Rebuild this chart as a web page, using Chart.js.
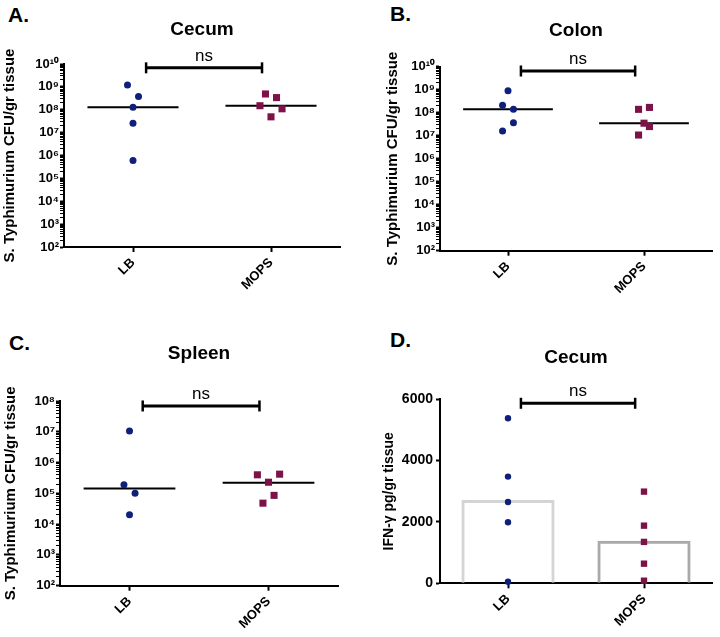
<!DOCTYPE html>
<html>
<head>
<meta charset="utf-8">
<script src="https://cdn.jsdelivr.net/npm/chart.js@4.4.0/dist/chart.umd.min.js"></script>
<style>
  body { margin: 0; background: #fff; width: 720px; height: 637px; position: relative; overflow: hidden;
         font-family: "Liberation Sans", Arial, sans-serif; }
  .panel { position: absolute; }
  .letter { position: absolute; font-weight: bold; font-size: 21px; line-height: 1; color: #000; }
</style>
</head>
<body>
<div class="letter" style="left:8px;top:4px">A.</div>
<div class="letter" style="left:390px;top:3px">B.</div>
<div class="letter" style="left:9px;top:332px">C.</div>
<div class="letter" style="left:390px;top:329px">D.</div>

<div class="panel" style="left:0;top:0;width:360px;height:320px"><canvas id="chartA"></canvas></div>
<div class="panel" style="left:360px;top:0;width:360px;height:320px"><canvas id="chartB"></canvas></div>
<div class="panel" style="left:0;top:320px;width:360px;height:317px"><canvas id="chartC"></canvas></div>
<div class="panel" style="left:360px;top:320px;width:360px;height:317px"><canvas id="chartD"></canvas></div>

<script>
// groups on the x axis
const groups = ['LB', 'MOPS'];

// A. Cecum, CFU/gr tissue
const cecumLB = [1.2e9, 3.8e8, 1.3e8, 2.6e7, 6e5];
const cecumMOPS = [4.9e8, 3.4e8, 1.5e8, 1.1e8, 4.9e7];
const cecumMedians = [1.3e8, 1.5e8];

// B. Colon, CFU/gr tissue
const colonLB = [9e8, 2.1e8, 1.4e8, 3.7e7, 1.6e7];
const colonMOPS = [1.4e8, 1.7e8, 3.5e7, 2.5e7, 1.07e7];
const colonMedians = [1.4e8, 3.5e7];

// C. Spleen, CFU/gr tissue
const spleenLB = [1.07e7, 1.9e5, 1.0e5, 2.0e4];
const spleenMOPS = [4.0e5, 4.2e5, 2.3e5, 8.6e4, 4.8e4];
const spleenMedians = [1.45e5, 2.2e5];

// D. Cecum, IFN-gamma pg/gr tissue
const ifnLB = [5380, 3480, 2650, 1990, 50];
const ifnMOPS = [2990, 1880, 1350, 640, 85];
const ifnMeans = [2720, 1390];

// y tick labels (decades)
const decadesAB = [2, 3, 4, 5, 6, 7, 8, 9, 10];
const decadesC = [2, 3, 4, 5, 6, 7, 8];
const ifnTicks = [0, 2000, 4000, 6000];

// horizontal scatter of the dots, so they don't overlap (category units)
const cecumLBJitter = [-0.04, 0.04, 0, 0, 0];
const cecumMOPSJitter = [-0.04, 0.04, -0.08, 0.08, 0];
const colonLBJitter = [0, -0.04, 0.04, 0.04, -0.04];
const colonMOPSJitter = [-0.04, 0.04, 0, 0.04, -0.04];
const spleenLBJitter = [0, -0.04, 0.04, 0];
const spleenMOPSJitter = [-0.08, 0.08, 0, 0.04, -0.04];

const FONT = '"Liberation Sans", Arial, Helvetica, sans-serif';
Chart.defaults.font.family = FONT;
Chart.defaults.color = '#000';

const NAVY = '#10207a';
const MAROON = '#7c1248';
const SUP = { '0': '⁰', '1': '¹', '2': '²', '3': '³', '4': '⁴', '5': '⁵', '6': '⁶', '7': '⁷', '8': '⁸', '9': '⁹' };

function decadeLabel(exp) {
  return '10' + String(exp).split('').map(c => SUP[c]).join('');
}

// major + minor ticks of the log axis
function logTicks(exps) {
  const t = [];
  exps.forEach((e, i) => {
    t.push({ value: Math.pow(10, e), major: true });
    if (i < exps.length - 1) {
      for (let m = 2; m <= 9; m++) t.push({ value: m * Math.pow(10, e), major: false });
    }
  });
  return t;
}

// draws "ns" above the bracket
const nsLabel = {
  id: 'nsLabel',
  afterDatasetsDraw(chart, args, opts) {
    const meta = chart.getDatasetMeta(opts.index);
    const p0 = meta.data[0], p1 = meta.data[1];
    const ctx = chart.ctx;
    ctx.save();
    ctx.font = '17px ' + FONT;
    ctx.fillStyle = '#000';
    ctx.textAlign = 'center';
    ctx.textBaseline = 'alphabetic';
    ctx.fillText('ns', (p0.x + p1.x) / 2, p0.y - 7);
    ctx.restore();
  }
};

function xAxis(h) {
  return {
    type: 'linear', min: 0.5, max: 2.5, offset: false,
    afterBuildTicks: s => { s.ticks = [{ value: 1 }, { value: 2 }]; },
    afterFit: s => { s.height = h; },
    ticks: {
      autoSkip: false, minRotation: 45, maxRotation: 45, padding: 3,
      font: { size: 13, weight: 'bold' }, color: '#000',
      callback: v => groups[Math.round(v) - 1]
    },
    grid: { display: true, drawOnChartArea: false, offset: false, tickLength: 5, tickWidth: 2, tickColor: '#000' },
    border: { display: true, color: '#000', width: 2 }
  };
}

function bracket(y) {
  return {
    showLine: true,
    data: [{ x: 1.095, y: y }, { x: 1.935, y: y }],
    borderColor: '#000', borderWidth: 3,
    pointStyle: 'line', pointRotation: 90, pointRadius: 5.5,
    pointBorderWidth: 2.5, pointBorderColor: '#000',
    clip: false
  };
}

function medianLine(x, y) {
  return {
    showLine: true,
    data: [{ x: x - 0.33, y: y }, { x: x + 0.33, y: y }],
    borderColor: '#000', borderWidth: 2, pointRadius: 0, clip: false
  };
}

function dots(values, jitter, x, style, color, r) {
  return {
    showLine: false,
    data: values.map((v, i) => ({ x: x + (jitter ? jitter[i] : 0), y: v })),
    pointStyle: style, pointRadius: r,
    pointBackgroundColor: color, pointBorderColor: color, pointBorderWidth: 0,
    clip: false
  };
}

function cfuPanel(id, o) {
  const datasets = [
    dots(o.lb, o.lbJit, 1, 'circle', NAVY, 3.5),
    dots(o.mops, o.mopsJit, 2, 'rect', MAROON, 5),
    medianLine(1, o.medians[0]),
    medianLine(2, o.medians[1]),
    bracket(o.sig)
  ];
  new Chart(document.getElementById(id), {
    type: 'scatter',
    data: { datasets: datasets },
    plugins: [nsLabel],
    options: {
      responsive: true, maintainAspectRatio: false, animation: false,
      layout: { padding: { left: 0, right: o.right, top: 0, bottom: 0 } },
      plugins: {
        legend: { display: false },
        tooltip: { enabled: false },
        title: {
          display: true, text: o.title, fullSize: false, color: '#000',
          font: { size: 19, weight: 'bold' },
          padding: { top: o.titleTop, bottom: o.titleBottom }
        },
        nsLabel: { index: 4 }
      },
      scales: {
        x: xAxis(o.xh),
        y: {
          type: 'logarithmic', min: Math.pow(10, o.decades[0]), max: Math.pow(10, o.decades[o.decades.length - 1]),
          afterBuildTicks: s => { s.ticks = logTicks(o.decades); },
          afterFit: s => { s.width = o.yw; },
          ticks: {
            autoSkip: false, padding: 1, color: '#000',
            font: { size: 13, weight: 'bold' },
            callback: (v, i, ticks) => ticks[i].major ? decadeLabel(Math.round(Math.log10(v))) : ''
          },
          grid: {
            display: true, drawOnChartArea: false, tickLength: 4, tickColor: '#000',
            tickWidth: c => (c.tick && c.tick.major) ? 2 : 1
          },
          border: { display: true, color: '#000', width: 2 },
          title: {
            display: true, text: 'S. Typhimurium CFU/gr tissue', color: '#000',
            font: { size: 15, weight: 'bold' }, padding: { top: o.ytitle, bottom: 0 }
          }
        }
      }
    }
  });
}

cfuPanel('chartA', {
  title: 'Cecum', lb: cecumLB, mops: cecumMOPS, lbJit: cecumLBJitter, mopsJit: cecumMOPSJitter,
  medians: cecumMedians, sig: 6.8e9, decades: decadesAB,
  right: 20, yw: 64, xh: 73, titleTop: 18.6, titleBottom: 22.6, ytitle: 1
});
cfuPanel('chartB', {
  title: 'Colon', lb: colonLB, mops: colonMOPS, lbJit: colonLBJitter, mopsJit: colonMOPSJitter,
  medians: colonMedians, sig: 6.5e9, decades: decadesAB,
  right: 3, yw: 80, xh: 69.3, titleTop: 19.3, titleBottom: 24.6, ytitle: 23.5
});
cfuPanel('chartC', {
  title: 'Spleen', lb: spleenLB, mops: spleenMOPS, lbJit: spleenLBJitter, mopsJit: spleenMOPSJitter,
  medians: spleenMedians, sig: 6.9e7, decades: decadesC,
  right: 22, yw: 60, xh: 51.3, titleTop: 22.1, titleBottom: 36.1, ytitle: 2
});

// D: bars (mean) with the single values on top
new Chart(document.getElementById('chartD'), {
  type: 'bar',
  data: {
    datasets: [
      Object.assign(dots(ifnLB, null, 1, 'circle', NAVY, 3.2), { type: 'scatter', order: 0 }),
      Object.assign(dots(ifnMOPS, null, 2, 'rect', MAROON, 4.5), { type: 'scatter', order: 0 }),
      Object.assign(bracket(5870), { type: 'scatter', order: 0 }),
      {
        type: 'bar', order: 5,
        data: ifnMeans.map((v, i) => ({ x: i + 1, y: v })),
        backgroundColor: 'rgba(255,255,255,0)',
        borderColor: ['#d4d4d4', '#a9a9a9'], borderWidth: 3, borderSkipped: 'bottom',
        categoryPercentage: 1, barPercentage: 0.685
      }
    ]
  },
  plugins: [nsLabel],
  options: {
    responsive: true, maintainAspectRatio: false, animation: false,
    layout: { padding: { left: 0, right: 5, top: 0, bottom: 0 } },
    plugins: {
      legend: { display: false },
      tooltip: { enabled: false },
      title: {
        display: true, text: 'Cecum', fullSize: false, color: '#000',
        font: { size: 19, weight: 'bold' }, padding: { top: 25.9, bottom: 30.6 }
      },
      nsLabel: { index: 2 }
    },
    scales: {
      x: xAxis(53.7),
      y: {
        type: 'linear', min: 0, max: 6000,
        afterBuildTicks: s => { s.ticks = ifnTicks.map(v => ({ value: v })); },
        afterFit: s => { s.width = 80; },
        ticks: {
          autoSkip: false, padding: 3, color: '#000', font: { size: 14, weight: 'bold' },
          callback: v => String(v)
        },
        grid: { display: true, drawOnChartArea: false, tickLength: 4, tickWidth: 2, tickColor: '#000' },
        border: { display: true, color: '#000', width: 2 },
        title: {
          display: true, text: 'IFN-γ pg/gr tissue', color: '#000',
          font: { size: 14, weight: 'bold' }, padding: { top: 20.6, bottom: 0 }
        }
      }
    }
  }
});
</script>
</body>
</html>
